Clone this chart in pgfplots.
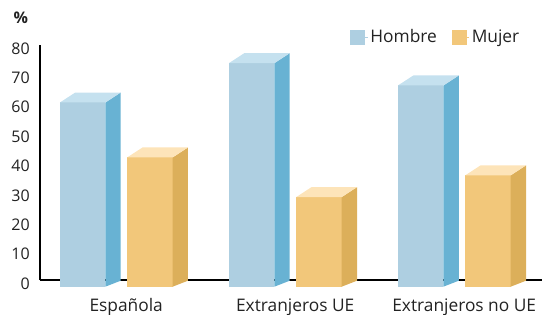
\documentclass[border=0pt]{standalone}
\usepackage{pgfplots}
\usepackage{pgfplotstable}
\pgfplotsset{compat=1.18}
\usepackage{fontspec}
\setmainfont{Open Sans}
\definecolor{hfront}{HTML}{AECFE1}
\definecolor{hside}{HTML}{68B2D3}
\definecolor{htop}{HTML}{C5E1EF}
\definecolor{mfront}{HTML}{F2C77A}
\definecolor{mside}{HTML}{DCAF5A}
\definecolor{mtop}{HTML}{FDE4B9}
\definecolor{txt}{HTML}{222222}

% values (%), by nationality
\pgfplotstableread{
idx H    M
0   62.7 44.0
1   76.1 30.5
2   68.5 37.9
}\datatab

\newcommand\getv[3]{\pgfplotstablegetelem{#1}{#2}\of\datatab\let#3\pgfplotsretval}
\getv{0}{H}\vEH \getv{0}{M}\vEM
\getv{1}{H}\vUH \getv{1}{M}\vUM
\getv{2}{H}\vNH \getv{2}{M}\vNM

\def\bw{0.269}
\def\dx{0.0905}
\def\base{-2.27}
\def\dyb{2.03}
\def\dyt{3.39}

\newcommand\threedbar[5]{%
 \pgfmathsetmacro\xl{#1}%
 \pgfmathsetmacro\xr{#1+\bw}%
 \pgfmathsetmacro\xlb{#1+\dx}%
 \pgfmathsetmacro\xrb{#1+\bw+\dx}%
 \pgfmathsetmacro\yb{\base}%
 \pgfmathsetmacro\yt{#2+\base}%
 \pgfmathsetmacro\ybb{\base+\dyb}%
 \pgfmathsetmacro\ytb{#2+\base+\dyt}%
 \edef\temp{%
 \noexpand\addplot[fill=#3, draw=none, forget plot] coordinates {(\xl,\yb) (\xr,\yb) (\xr,\yt) (\xl,\yt)} -- cycle;
 \noexpand\addplot[fill=#4, draw=none, forget plot] coordinates {(\xr,\yb) (\xrb,\ybb) (\xrb,\ytb) (\xr,\yt)} -- cycle;
 \noexpand\addplot[fill=#5, draw=none, forget plot] coordinates {(\xl,\yt) (\xlb,\ytb) (\xrb,\ytb) (\xr,\yt)} -- cycle;
 }\temp
}

\begin{document}
\begin{tikzpicture}
\useasboundingbox (-30pt,-25.5pt) rectangle (376.5pt,210pt);
\begin{axis}[
  at={(0,0)}, anchor=south west,
  scale only axis, width=376.5pt, height=176.25pt,
  xmin=-0.498, xmax=2.472, ymin=0, ymax=80,
  clip=false,
  axis lines=left,
  axis line style={-, black, line width=0.8pt},
  major tick length=0pt,
  ytick={0,10,...,80},
  xtick={0,1,2},
  xticklabels={Española, Extranjeros UE, Extranjeros no UE},
  /pgf/number format/assume math mode=true,
  tick label style={font=\fontsize{12}{14}\selectfont, text=txt},
  yticklabel style={anchor=east, inner sep=0pt, xshift=-7.5pt, yshift=-2.6pt},
  xticklabel style={anchor=north, inner sep=0pt, yshift=-13.6pt, xshift=1.5pt, font=\fontsize{13}{15}\selectfont},
  ylabel={\%},
  every axis y label/.style={at={(axis description cs:-0.038,1.115)}, anchor=center, font=\bfseries\fontsize{12}{14}\selectfont, text=txt},
  legend style={draw=none, fill=none, legend columns=2, at={(rel axis cs:0.6175,1.034)}, anchor=west, inner xsep=0pt, inner ysep=0pt, font=\fontsize{13}{15}\selectfont, text=txt, /tikz/every even column/.append style={column sep=9pt}},
  legend image code/.code={\fill[#1] (0pt,-5.25pt) rectangle (10.5pt,5.25pt); \path (0pt,0pt) -- (12.75pt,0pt);},
]
\threedbar{-0.380}{\vEH}{hfront}{hside}{htop}
\threedbar{0.018}{\vEM}{mfront}{mside}{mtop}
\threedbar{0.620}{\vUH}{hfront}{hside}{htop}
\threedbar{1.018}{\vUM}{mfront}{mside}{mtop}
\threedbar{1.620}{\vNH}{hfront}{hside}{htop}
\threedbar{2.018}{\vNM}{mfront}{mside}{mtop}
\addlegendimage{hfront}
\addlegendentry{Hombre}
\addlegendimage{mfront}
\addlegendentry{Mujer}
\end{axis}
\end{tikzpicture}
\end{document}
